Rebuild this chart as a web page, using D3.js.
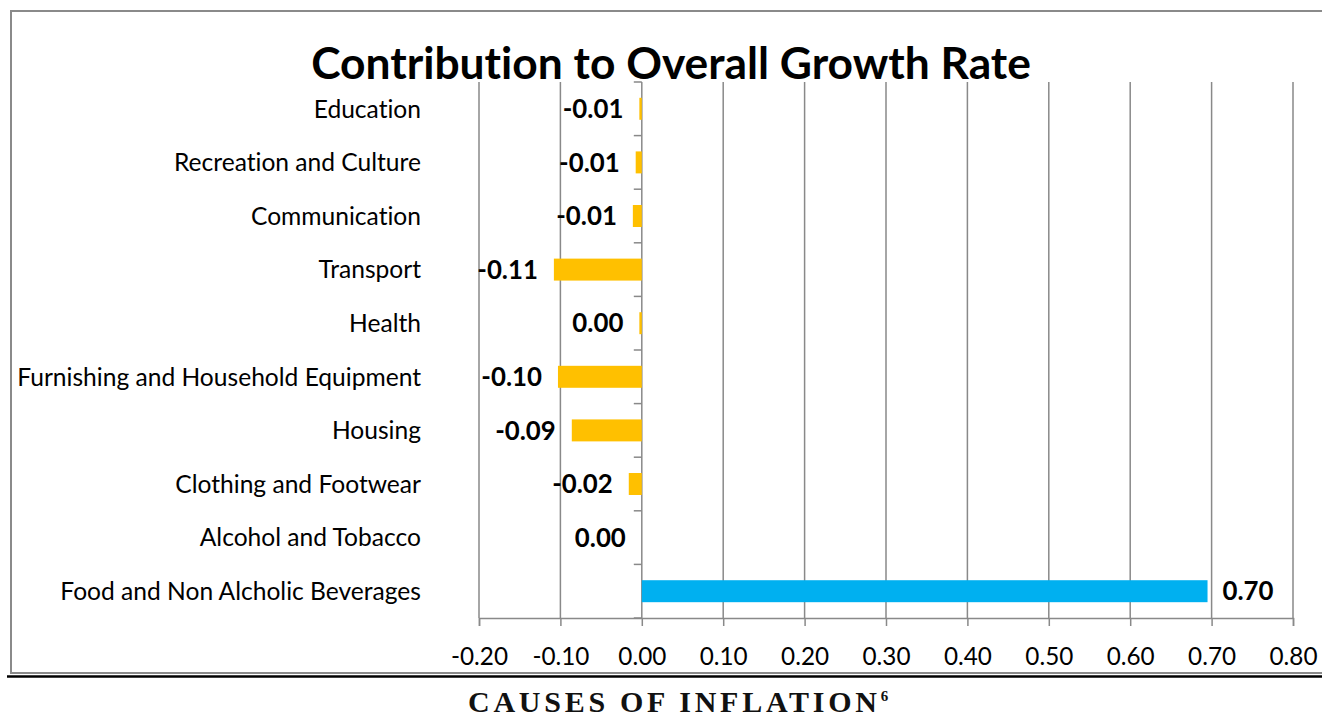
<!DOCTYPE html>
<html>
<head>
<meta charset="utf-8">
<script src="https://cdn.jsdelivr.net/npm/d3@7"></script>
<style>
  body { margin: 0; background: #fff; }
  svg { display: block; }
  text { font-variant-ligatures: none; font-feature-settings: "liga" 0; }
</style>
</head>
<body>
<div id="chart"></div>
<script>
const W = 1322, H = 719;

// data, top category first
const categories = ["Education", "Recreation and Culture", "Communication", "Transport", "Health",
  "Furnishing and Household Equipment", "Housing", "Clothing and Footwear", "Alcohol and Tobacco",
  "Food and Non Alcholic Beverages"];
const values = [-0.003, -0.0075, -0.011, -0.108, -0.003, -0.103, -0.086, -0.016, 0.0, 0.695];
const valueLabels = ["-0.01", "-0.01", "-0.01", "-0.11", "0.00", "-0.10", "-0.09", "-0.02", "0.00", "0.70"];
const xTicks = [-0.2, -0.1, 0, 0.1, 0.2, 0.3, 0.4, 0.5, 0.6, 0.7, 0.8];

const sans = "Lato, 'Open Sans', sans-serif";
const serif = "'Liberation Serif', 'DejaVu Serif', serif";

const svg = d3.select("#chart").append("svg")
    .attr("width", W)
    .attr("height", H);

// pick a font size so a sample string matches the width measured on the picture
function fitSize(sample, weight, family, target) {
    const t = svg.append("text")
        .attr("font-family", family)
        .attr("font-weight", weight)
        .attr("font-size", 100)
        .text(sample);
    const w = t.node().getComputedTextLength();
    t.remove();
    return 100 * target / w;
}

const titleSize = fitSize("Contribution to Overall Growth Rate", "bold", sans, 720);
const catSize = fitSize("Furnishing and Household Equipment", "normal", sans, 404);
const tickSize = fitSize("0.80", "normal", sans, 48);
const labelSize = fitSize("0.70", "bold", sans, 51);

// chart frame
svg.append("rect")
    .attr("x", 11).attr("y", 11)
    .attr("width", W + 20).attr("height", 662)
    .attr("fill", "none")
    .attr("stroke", "#8a8a8a")
    .attr("stroke-width", 2);

const x = d3.scaleLinear()
    .domain([-0.2, 0.8])
    .range([479, 1293]);

const y = d3.scaleBand()
    .domain(categories)
    .range([82, 618])
    .paddingInner(0.59)
    .paddingOuter(0.295);

// vertical gridlines
svg.append("g")
    .selectAll("line")
    .data(xTicks)
    .enter().append("line")
    .attr("x1", d => x(d)).attr("x2", d => x(d))
    .attr("y1", 82).attr("y2", 618)
    .attr("stroke", "#898989")
    .attr("stroke-width", 1.5);

// x axis
const xAxis = svg.append("g")
    .attr("transform", "translate(0,618)")
    .call(d3.axisBottom(x).tickValues(xTicks).tickFormat(d => d.toFixed(2)).tickSize(8).tickPadding(22));
xAxis.select(".domain").attr("stroke", "#898989").attr("stroke-width", 1.5);
xAxis.selectAll(".tick line").attr("stroke", "#898989").attr("stroke-width", 1.5);
xAxis.selectAll("text")
    .attr("font-family", sans)
    .attr("font-size", tickSize)
    .attr("fill", "#000");

// category ticks on the zero line
const step = y.step();
svg.append("g")
    .selectAll("line")
    .data(d3.range(categories.length + 1))
    .enter().append("line")
    .attr("x1", x(0) - 8).attr("x2", x(0))
    .attr("y1", i => 82 + i * step).attr("y2", i => 82 + i * step)
    .attr("stroke", "#898989")
    .attr("stroke-width", 1.5);

// bars
svg.append("g")
    .selectAll("rect")
    .data(values)
    .enter().append("rect")
    .attr("x", d => x(Math.min(0, d)))
    .attr("y", (d, i) => y(categories[i]))
    .attr("width", d => Math.abs(x(d) - x(0)))
    .attr("height", y.bandwidth())
    .attr("fill", d => d > 0 ? "#00b0f0" : "#ffc000");

// value labels
svg.append("g")
    .selectAll("text")
    .data(values)
    .enter().append("text")
    .attr("x", d => d > 0 ? x(d) + 15 : x(d) - 16)
    .attr("y", (d, i) => y(categories[i]) + y.bandwidth() / 2)
    .attr("dy", "0.36em")
    .attr("text-anchor", d => d > 0 ? "start" : "end")
    .attr("font-family", sans)
    .attr("font-weight", "bold")
    .attr("font-size", labelSize)
    .attr("fill", "#000")
    .text((d, i) => valueLabels[i]);

// category labels
svg.append("g")
    .selectAll("text")
    .data(categories)
    .enter().append("text")
    .attr("x", 421)
    .attr("y", d => y(d) + y.bandwidth() / 2)
    .attr("dy", "0.36em")
    .attr("text-anchor", "end")
    .attr("font-family", sans)
    .attr("font-size", catSize)
    .attr("fill", "#000")
    .text(d => d);

// title
svg.append("text")
    .attr("x", 671)
    .attr("y", 79)
    .attr("text-anchor", "middle")
    .attr("font-family", sans)
    .attr("font-weight", "bold")
    .attr("font-size", titleSize)
    .attr("fill", "#000")
    .text("Contribution to Overall Growth Rate");

// black rule under the chart
svg.append("line")
    .attr("x1", 7).attr("x2", W)
    .attr("y1", 676.5).attr("y2", 676.5)
    .attr("stroke", "#000")
    .attr("stroke-width", 2.5);

// caption with superscript
const cap = svg.append("text")
    .attr("x", 468)
    .attr("y", 712)
    .attr("font-family", serif)
    .attr("font-weight", "bold")
    .attr("font-size", 30)
    .attr("fill", "#111");
const capMain = cap.append("tspan").text("CAUSES OF INFLATION");
cap.append("tspan")
    .attr("font-size", 15)
    .attr("dy", -11)
    .attr("dx", 0)
    .text("6");
// spread the letters to the measured width
const baseW = capMain.node().getComputedTextLength();
capMain.attr("letter-spacing", Math.max(0, (409 - baseW) / 18));
</script>
</body>
</html>
